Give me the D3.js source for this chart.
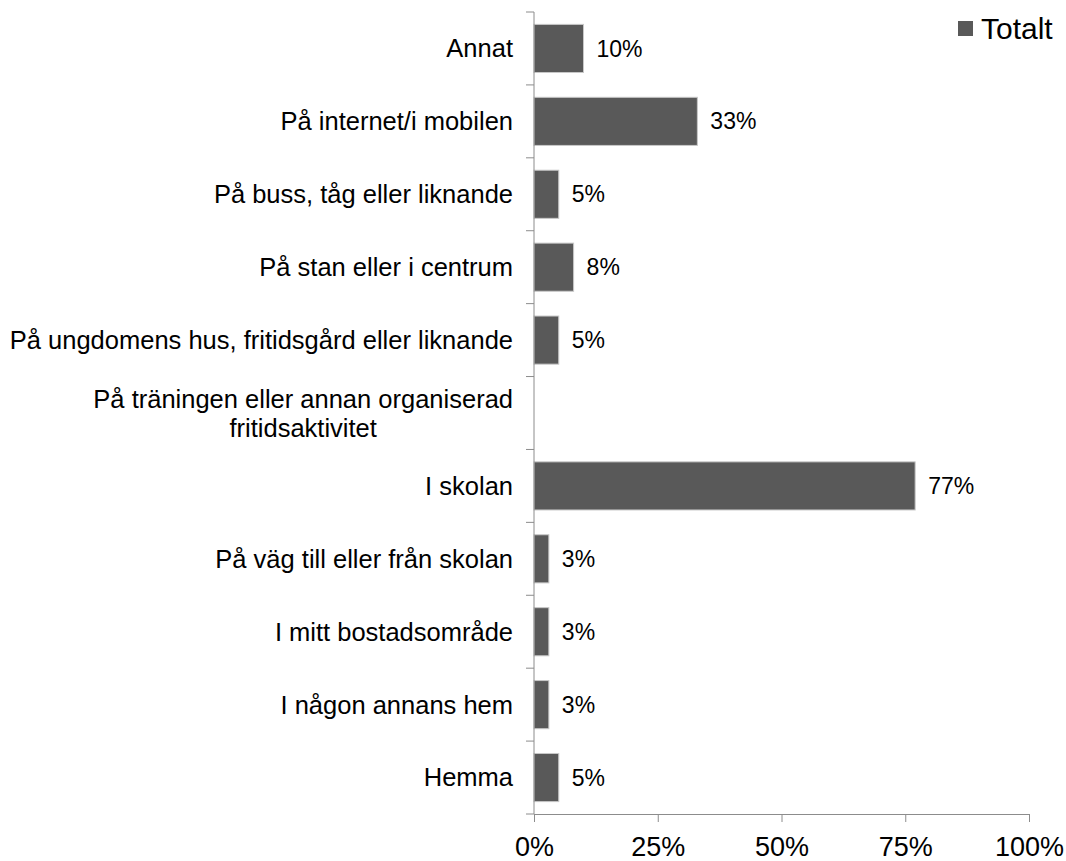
<!DOCTYPE html>
<html>
<head>
<meta charset="utf-8">
<script src="https://cdn.jsdelivr.net/npm/d3@7/dist/d3.min.js"></script>
<style>
  html, body { margin: 0; padding: 0; background: #fff; }
  svg { display: block; font-family: "Liberation Sans", Arial, sans-serif; }
</style>
</head>
<body>
<svg id="chart" width="1066" height="861"></svg>
<script>
// Where it happened (share of respondents, %), listed top to bottom
const categories = [
  "Annat",
  "På internet/i mobilen",
  "På buss, tåg eller liknande",
  "På stan eller i centrum",
  "På ungdomens hus, fritidsgård eller liknande",
  "På träningen eller annan organiserad fritidsaktivitet",
  "I skolan",
  "På väg till eller från skolan",
  "I mitt bostadsområde",
  "I någon annans hem",
  "Hemma"
];
const totalt = [10, 33, 5, 8, 5, null, 77, 3, 3, 3, 5];
const xTicks = [0, 25, 50, 75, 100];
const seriesName = "Totalt";

const svg = d3.select("#chart");
const margin = { top: 12, right: 37, bottom: 47, left: 534 };
const W = 1066, H = 861;

const x = d3.scaleLinear().domain([0, 100]).range([margin.left, W - margin.right]);
const y = d3.scaleBand().domain(categories).range([margin.top, H - margin.bottom]).paddingInner(0.34).paddingOuter(0.17);

const axisColor = "#8c8c8c";
const barFill = "#595959";

// bars
const rows = categories.map((c, i) => ({ c, v: totalt[i] })).filter(d => d.v != null);
svg.append("g").selectAll("rect").data(rows).join("rect")
  .attr("x", x(0))
  .attr("y", d => y(d.c))
  .attr("width", d => x(d.v) - x(0))
  .attr("height", y.bandwidth())
  .attr("fill", barFill)
  .attr("stroke", "#c8c8c8")
  .attr("stroke-width", 1);

// value labels
svg.append("g").selectAll("text").data(rows).join("text")
  .attr("x", d => x(d.v) + 13)
  .attr("y", d => y(d.c) + y.bandwidth() / 2)
  .attr("dy", "0.35em")
  .attr("font-size", 23)
  .attr("fill", "#000")
  .text(d => d.v + "%");

// x axis
const xAxis = svg.append("g")
  .attr("transform", `translate(0,${H - margin.bottom})`)
  .call(d3.axisBottom(x).tickValues(xTicks).tickFormat(d => d + "%").tickSize(8).tickSizeOuter(0));
xAxis.select(".domain").attr("stroke", axisColor);
xAxis.selectAll(".tick line").attr("stroke", axisColor);
xAxis.selectAll(".tick text").attr("font-size", 27).attr("fill", "#000").attr("dy", "0").attr("y", 42)
  .attr("font-family", "Liberation Sans, Arial, sans-serif");

// y axis line with ticks at band boundaries
const yAxisG = svg.append("g");
yAxisG.append("line")
  .attr("x1", x(0)).attr("x2", x(0))
  .attr("y1", margin.top).attr("y2", H - margin.bottom)
  .attr("stroke", axisColor);
const bounds = d3.range(categories.length + 1).map(i => margin.top + i * (H - margin.top - margin.bottom) / categories.length);
yAxisG.selectAll("line.t").data(bounds).join("line")
  .attr("class", "t")
  .attr("x1", x(0) - 8).attr("x2", x(0))
  .attr("y1", d => d).attr("y2", d => d)
  .attr("stroke", axisColor);

// category labels, wrapped when too long
const labelX = x(0) - 21;
const maxLabelWidth = 520;
const labels = svg.append("g").attr("font-size", 25.5).attr("fill", "#000");
categories.forEach(c => {
  const cy = y(c) + y.bandwidth() / 2;
  const t = labels.append("text").attr("x", labelX).attr("y", cy).attr("dy", "0.35em")
    .attr("text-anchor", "end").text(c);
  if (t.node().getComputedTextLength() > maxLabelWidth) {
    t.remove();
    const words = c.split(" ");
    const first = words.slice(0, -1).join(" ");
    const second = words[words.length - 1];
    const g = labels.append("g");
    const t1 = g.append("text").attr("x", labelX).attr("y", cy - 14).attr("dy", "0.35em").attr("text-anchor", "end").text(first);
    const w1 = t1.node().getComputedTextLength();
    g.append("text").attr("x", labelX - w1 / 2).attr("y", cy + 15).attr("dy", "0.35em").attr("text-anchor", "middle").text(second);
  }
});

// legend
const lg = svg.append("g");
lg.append("rect").attr("x", 958).attr("y", 21).attr("width", 15).attr("height", 15).attr("fill", barFill);
lg.append("text").attr("x", 981).attr("y", 28).attr("dy", "0.35em").attr("font-size", 30).attr("fill", "#000").text(seriesName);
</script>
</body>
</html>
